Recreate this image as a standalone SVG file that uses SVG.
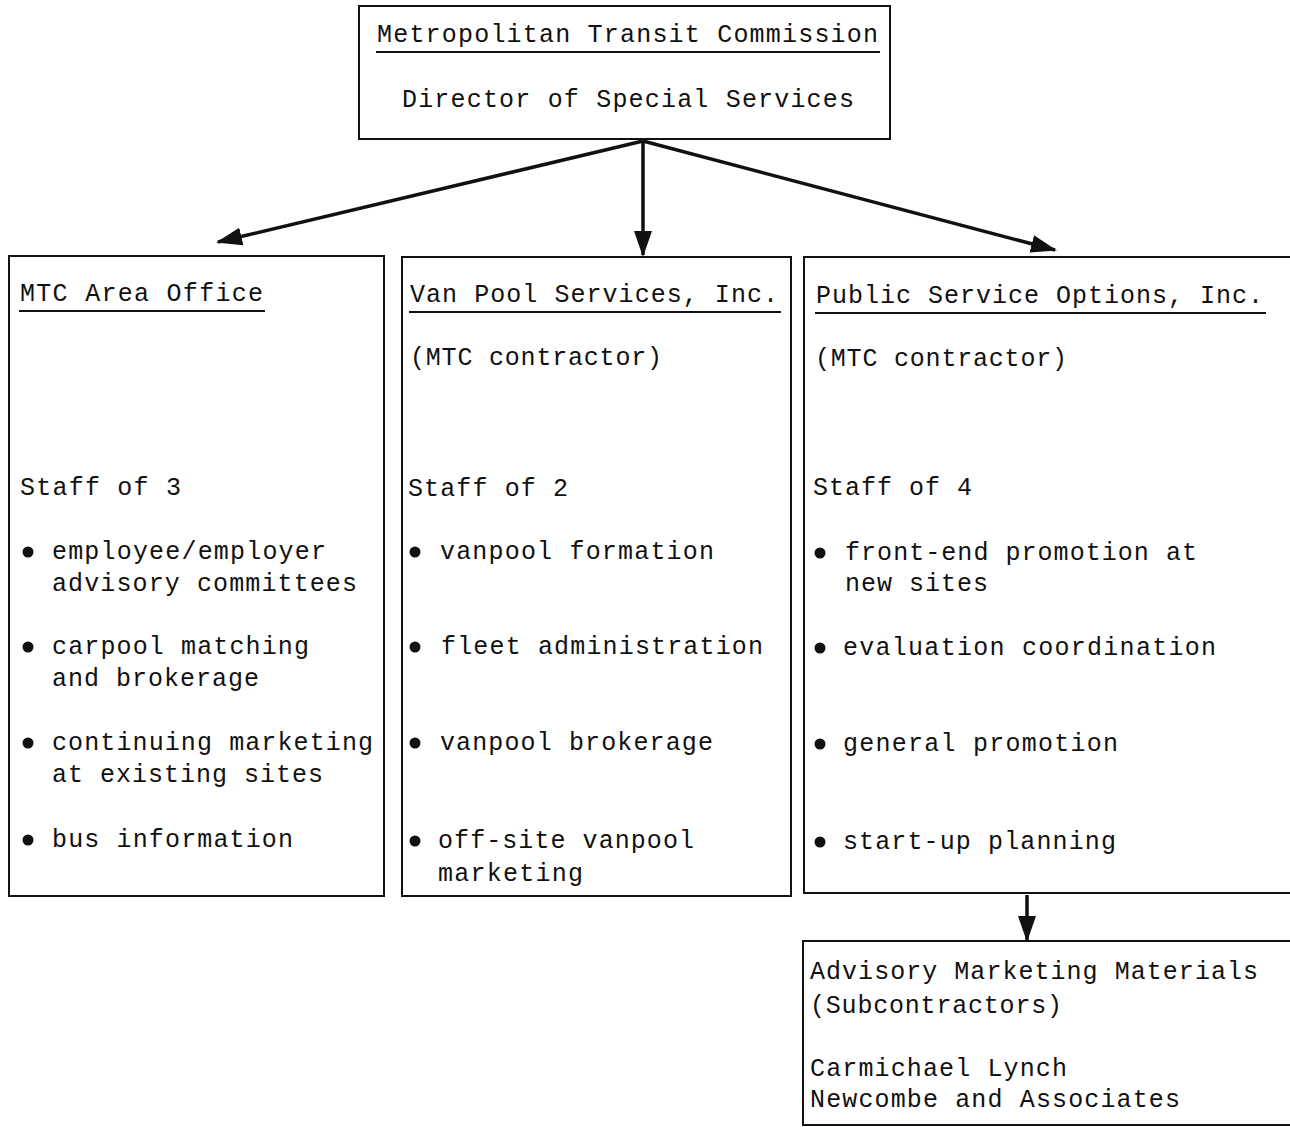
<svg xmlns="http://www.w3.org/2000/svg" width="1290" height="1127" viewBox="0 0 1290 1127">
<style>
.box{fill:none;stroke:#111;stroke-width:2}
text{font-family:"Liberation Mono","Courier New",monospace;font-size:25px;fill:#111}
.ul{stroke:#111;stroke-width:2}
.conn{stroke:#111;stroke-width:3.5;fill:none}
.b{fill:#111}
</style>
<defs>
<marker id="ah" markerWidth="26" markerHeight="20" refX="24" refY="10" orient="auto" markerUnits="userSpaceOnUse">
<path d="M0,1 L26,10 L0,19 Z" fill="#111"/>
</marker>
</defs>
<rect width="1290" height="1127" fill="#fff"/>
<g id="connectors">
<line class="conn" x1="643" y1="141" x2="218" y2="242" marker-end="url(#ah)"/>
<line class="conn" x1="643" y1="141" x2="643" y2="255" stroke-width="3" marker-end="url(#ah)"/>
<line class="conn" x1="643" y1="141" x2="1055" y2="250" marker-end="url(#ah)"/>
<line class="conn" x1="1027" y1="895" x2="1027" y2="940" stroke-width="2.5" marker-end="url(#ah)"/>
</g>
<g id="mtc">
<rect class="box" x="359" y="6" width="531" height="133"/>
<text x="377" y="42" textLength="501" lengthAdjust="spacing">Metropolitan Transit Commission</text>
<line class="ul" x1="376" y1="52" x2="880" y2="52"/>
<text x="402" y="107" textLength="452" lengthAdjust="spacing">Director of Special Services</text>
</g>
<g id="area-office">
<rect class="box" x="9" y="256" width="375" height="640"/>
<text x="20" y="301" textLength="243" lengthAdjust="spacing">MTC Area Office</text>
<line class="ul" x1="19" y1="311" x2="265" y2="311"/>
<text x="20" y="495" textLength="161" lengthAdjust="spacing">Staff of 3</text>
<circle class="b" cx="28" cy="552" r="5.5"/>
<text x="52" y="559" textLength="274" lengthAdjust="spacing">employee/employer</text>
<text x="52" y="591" textLength="305" lengthAdjust="spacing">advisory committees</text>
<circle class="b" cx="28" cy="647" r="5.5"/>
<text x="52" y="654" textLength="257" lengthAdjust="spacing">carpool matching</text>
<text x="52" y="686" textLength="207" lengthAdjust="spacing">and brokerage</text>
<circle class="b" cx="28" cy="743" r="5.5"/>
<text x="52" y="750" textLength="321" lengthAdjust="spacing">continuing marketing</text>
<text x="52" y="782" textLength="271" lengthAdjust="spacing">at existing sites</text>
<circle class="b" cx="28" cy="840" r="5.5"/>
<text x="52" y="847" textLength="241" lengthAdjust="spacing">bus information</text>
</g>
<g id="van-pool">
<rect class="box" x="402" y="257" width="389" height="639"/>
<text x="410" y="302" textLength="368" lengthAdjust="spacing">Van Pool Services, Inc.</text>
<line class="ul" x1="409" y1="312" x2="781" y2="312"/>
<text x="410" y="365" textLength="252" lengthAdjust="spacing">(MTC contractor)</text>
<text x="408" y="496" textLength="160" lengthAdjust="spacing">Staff of 2</text>
<circle class="b" cx="415" cy="552" r="5.5"/>
<text x="440" y="559" textLength="274" lengthAdjust="spacing">vanpool formation</text>
<circle class="b" cx="415" cy="647" r="5.5"/>
<text x="441" y="654" textLength="322" lengthAdjust="spacing">fleet administration</text>
<circle class="b" cx="415" cy="743" r="5.5"/>
<text x="440" y="750" textLength="273" lengthAdjust="spacing">vanpool brokerage</text>
<circle class="b" cx="415" cy="841" r="5.5"/>
<text x="438" y="848" textLength="256" lengthAdjust="spacing">off-site vanpool</text>
<text x="438" y="881" textLength="145" lengthAdjust="spacing">marketing</text>
</g>
<g id="pso">
<rect class="box" x="804" y="257" width="500" height="636"/>
<text x="816" y="303" textLength="447" lengthAdjust="spacing">Public Service Options, Inc.</text>
<line class="ul" x1="815" y1="313" x2="1266" y2="313"/>
<text x="815" y="366" textLength="252" lengthAdjust="spacing">(MTC contractor)</text>
<text x="813" y="495" textLength="159" lengthAdjust="spacing">Staff of 4</text>
<circle class="b" cx="820" cy="553" r="5.5"/>
<text x="845" y="560" textLength="352" lengthAdjust="spacing">front-end promotion at</text>
<text x="845" y="591" textLength="143" lengthAdjust="spacing">new sites</text>
<circle class="b" cx="820" cy="648" r="5.5"/>
<text x="843" y="655" textLength="373" lengthAdjust="spacing">evaluation coordination</text>
<circle class="b" cx="820" cy="744" r="5.5"/>
<text x="843" y="751" textLength="275" lengthAdjust="spacing">general promotion</text>
<circle class="b" cx="820" cy="842" r="5.5"/>
<text x="843" y="849" textLength="273" lengthAdjust="spacing">start-up planning</text>
</g>
<g id="subcontractors">
<rect class="box" x="803" y="941" width="500" height="184"/>
<text x="810" y="979" textLength="448" lengthAdjust="spacing">Advisory Marketing Materials</text>
<text x="810" y="1013" textLength="252" lengthAdjust="spacing">(Subcontractors)</text>
<text x="810" y="1076" textLength="257" lengthAdjust="spacing">Carmichael Lynch</text>
<text x="810" y="1107" textLength="370" lengthAdjust="spacing">Newcombe and Associates</text>
</g>
</svg>
